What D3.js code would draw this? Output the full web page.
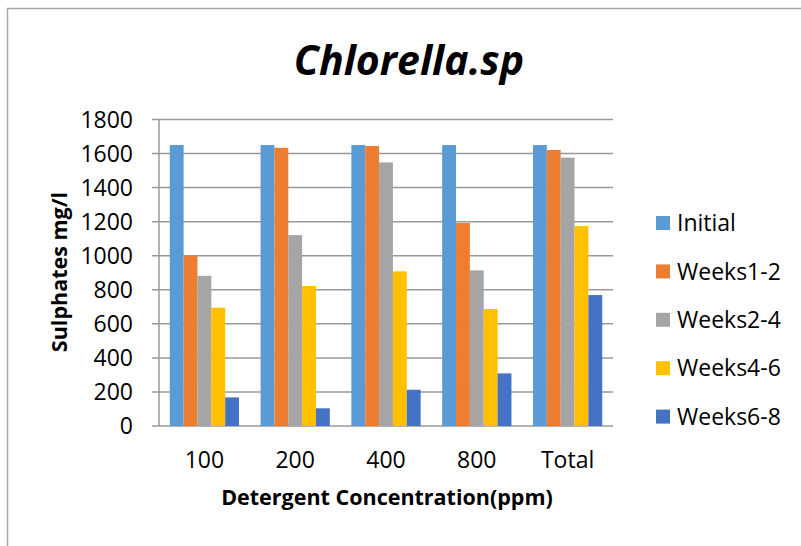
<!DOCTYPE html>
<html>
<head>
<meta charset="utf-8">
<script src="https://cdn.jsdelivr.net/npm/d3@7"></script>
<style>
  body { margin: 0; background: #fff; }
  text { font-family: "Open Sans", "Noto Sans", sans-serif; fill: #000; }
</style>
</head>
<body>
<script>
// chart data
var categories = ["100", "200", "400", "800", "Total"];
var seriesNames = ["Initial", "Weeks1-2", "Weeks2-4", "Weeks4-6", "Weeks6-8"];
var initial = [1650, 1650, 1650, 1650, 1650];
var weeks12 = [1000, 1634, 1644, 1192, 1621];
var weeks24 = [882, 1121, 1548, 914, 1576];
var weeks46 = [695, 822, 908, 687, 1174];
var weeks68 = [168, 104, 213, 309, 769];
var yTicks = [0, 200, 400, 600, 800, 1000, 1200, 1400, 1600, 1800];
var colors = ["#5b9bd5", "#ed7d31", "#a5a5a5", "#ffc000", "#4472c4"];

var allSeries = [initial, weeks12, weeks24, weeks46, weeks68];

var width = 801, height = 546;
var margin = {"left": 159, "right": 188, "top": 119.5, "bottom": 120};

var svg = d3.select("body")
            .append("svg")
            .attr("width", width)
            .attr("height", height);

// outer frame
svg.append("rect")
   .attr("x", 7.5)
   .attr("y", 8.5)
   .attr("width", 900)
   .attr("height", 700)
   .attr("fill", "none")
   .attr("stroke", "#a6a6a6")
   .attr("stroke-width", 1.5);

var xScale = d3.scaleBand()
               .domain(categories)
               .range([margin.left, width - margin.right])
               .paddingInner(0.237)
               .paddingOuter(0.1185);

var xInner = d3.scaleBand()
               .domain(seriesNames)
               .range([0, xScale.bandwidth()]);

var yScale = d3.scaleLinear()
               .domain([0, 1800])
               .range([height - margin.bottom, margin.top]);

// gridlines
svg.append("g")
   .selectAll("line")
   .data(yTicks)
   .enter()
   .append("line")
   .attr("x1", margin.left - 7)
   .attr("x2", width - margin.right)
   .attr("y1", function(d) { return yScale(d); })
   .attr("y2", function(d) { return yScale(d); })
   .attr("stroke", "#999999")
   .attr("stroke-width", 1.5);

// y axis line
svg.append("line")
   .attr("x1", margin.left)
   .attr("x2", margin.left)
   .attr("y1", yScale(1800))
   .attr("y2", yScale(0))
   .attr("stroke", "#999999")
   .attr("stroke-width", 1.5);

// bars
var groups = svg.selectAll(".group")
                .data(categories)
                .enter()
                .append("g")
                .attr("class", "group")
                .attr("transform", function(d) {
                  return "translate(" + xScale(d) + ",0)";
                });

groups.selectAll("rect")
      .data(function(d, i) {
        return allSeries.map(function(s, j) {
          return {"name": seriesNames[j], "value": s[i], "color": colors[j]};
        });
      })
      .enter()
      .append("rect")
      .attr("x", function(d) { return xInner(d.name); })
      .attr("width", xInner.bandwidth())
      .attr("y", function(d) { return yScale(d.value); })
      .attr("height", function(d) { return yScale(0) - yScale(d.value); })
      .attr("fill", function(d) { return d.color; });

// y tick labels
svg.append("g")
   .selectAll("text")
   .data(yTicks)
   .enter()
   .append("text")
   .attr("x", 133)
   .attr("y", function(d) { return yScale(d); })
   .attr("dy", "0.36em")
   .style("text-anchor", "end")
   .style("font-size", "23px")
   .text(function(d) { return d; });

// x tick labels
svg.append("g")
   .selectAll("text")
   .data(categories)
   .enter()
   .append("text")
   .attr("x", function(d) { return xScale(d) + xScale.bandwidth() / 2; })
   .attr("y", 468)
   .style("text-anchor", "middle")
   .style("font-size", "23px")
   .text(function(d) { return d; });

// title
svg.append("text")
   .attr("x", 409)
   .attr("y", 75)
   .style("text-anchor", "middle")
   .style("font-size", "41px")
   .style("font-weight", "bold")
   .style("font-style", "italic")
   .text("Chlorella.sp");

// axis titles
svg.append("text")
   .attr("x", 387)
   .attr("y", 505)
   .style("text-anchor", "middle")
   .style("font-size", "21.5px")
   .style("font-weight", "bold")
   .text("Detergent Concentration(ppm)");

svg.append("text")
   .attr("transform", "translate(67,272) rotate(-90)")
   .style("text-anchor", "middle")
   .style("font-size", "21.5px")
   .style("font-weight", "bold")
   .text("Sulphates mg/l");

// legend
var legend = svg.selectAll(".legend")
                .data(seriesNames)
                .enter()
                .append("g")
                .attr("class", "legend")
                .attr("transform", function(d, i) {
                  return "translate(656," + (223 + i * 48.4) + ")";
                });

legend.append("rect")
      .attr("x", 0)
      .attr("y", -7)
      .attr("width", 14)
      .attr("height", 14)
      .style("fill", function(d, i) { return colors[i]; });

legend.append("text")
      .attr("x", 21)
      .attr("y", 0)
      .attr("dy", "0.36em")
      .style("font-size", "23px")
      .text(function(d) { return d; });
</script>
</body>
</html>
